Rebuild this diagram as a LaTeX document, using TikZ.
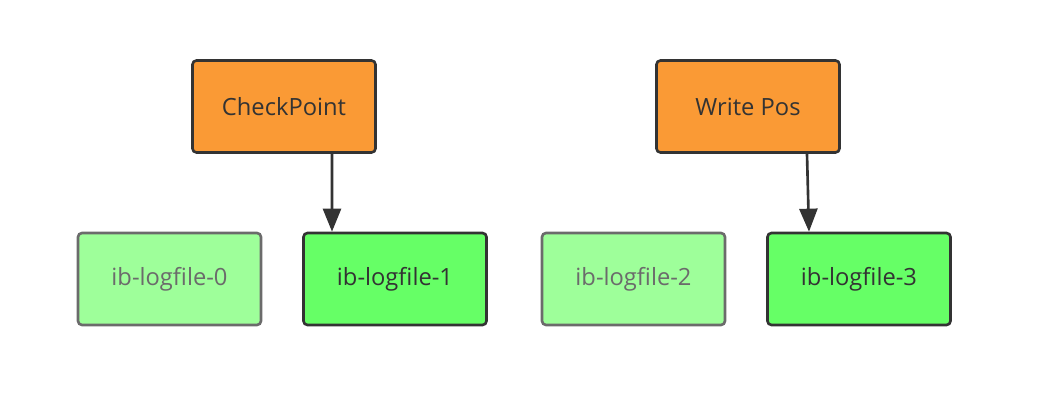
\documentclass[tikz,border=0pt]{standalone}
\usepackage{fontspec}
\setmainfont{Open Sans}
\usetikzlibrary{arrows.meta}
\definecolor{ptrorange}{HTML}{FA9A35}
\definecolor{fileon}{HTML}{66FF66}
\definecolor{fileoff}{HTML}{9EFF9A}
\definecolor{edgedark}{HTML}{333333}
\definecolor{edgegray}{HTML}{6B6B6B}
\begin{document}
\begin{tikzpicture}[
    box/.style = {rectangle, rounded corners=0.08cm, line width=1.5pt,
                  minimum width=3.66cm, minimum height=1.84cm,
                  font=\fontsize{13.5}{16}\selectfont},
    ptr/.style = {box, draw=edgedark, fill=ptrorange, text=edgedark},
    active/.style = {box, draw=edgedark, fill=fileon, text=edgedark},
    idle/.style = {box, draw=edgegray, fill=fileoff, text=edgegray},
    arr/.style = {-{Triangle[length=4.6mm,width=3.6mm]}, line width=1.5pt, draw=edgedark}
]
                    \useasboundingbox (0,0) rectangle (20.8,8.1);

                    \node[ptr] (cp) at (5.68,5.97) {CheckPoint};
                    \node[ptr] (wp) at (14.96,5.97) {Write Pos};

                    \node[idle] (lf0) at (3.39,2.52) {ib-logfile-0};
                    \node[active] (lf1) at (7.90,2.52) {ib-logfile-1};
                    \node[idle] (lf2) at (12.67,2.52) {ib-logfile-2};
                    \node[active] (lf3) at (17.18,2.52) {ib-logfile-3};

                    \draw[arr] ([xshift=0.96cm]cp.south) -- ([xshift=-1.26cm]lf1.north);
                    \draw[arr] ([xshift=1.18cm]wp.south) -- ([xshift=-1.00cm]lf3.north);
                \end{tikzpicture}
\end{document}
